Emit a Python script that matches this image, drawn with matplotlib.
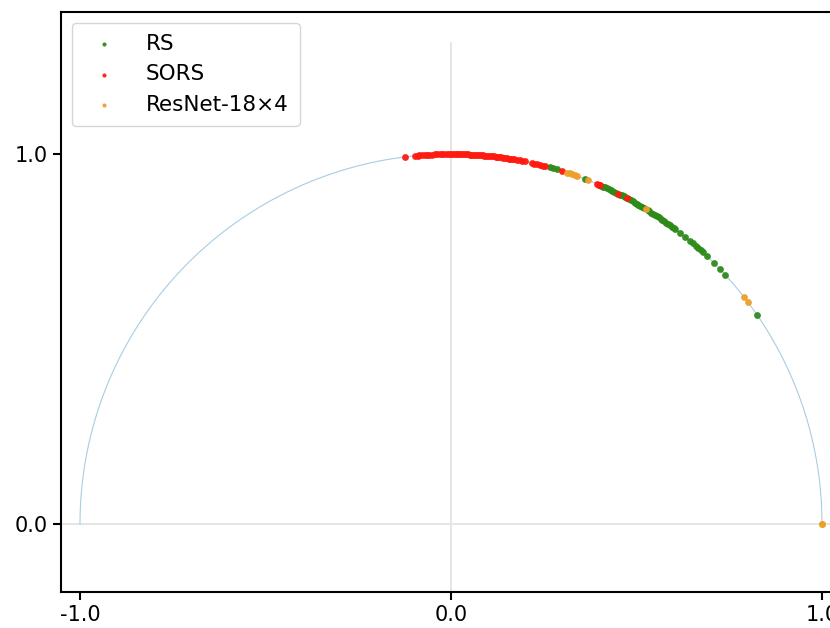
import numpy as np
import matplotlib.pyplot as plt

# cosine values (x on the unit circle)
rs_x = [0.267, 0.275, 0.286, 0.361, 0.40, 0.405, 0.41, 0.415, 0.42, 0.425, 0.43,
        0.435, 0.44, 0.445, 0.45, 0.456, 0.46, 0.465, 0.47, 0.475, 0.48, 0.485,
        0.49, 0.495, 0.50, 0.505, 0.51, 0.515, 0.52, 0.53, 0.535, 0.54, 0.545,
        0.55, 0.555, 0.56, 0.565, 0.57, 0.575, 0.58, 0.585, 0.59, 0.595, 0.60,
        0.604, 0.617, 0.631, 0.644, 0.652, 0.66, 0.667, 0.673, 0.679, 0.69,
        0.709, 0.725, 0.739, 0.825]
sors_x = [-0.124, -0.097, -0.09, -0.085, -0.078, -0.07, -0.064, -0.058, -0.05,
          -0.044, -0.038, -0.03, -0.024, -0.018, -0.012, -0.006, 0.0, 0.005,
          0.01, 0.015, 0.02, 0.025, 0.03, 0.035, 0.04, 0.045, 0.05, 0.055, 0.06,
          0.065, 0.07, 0.075, 0.08, 0.085, 0.09, 0.095, 0.10, 0.105, 0.11, 0.115,
          0.12, 0.125, 0.13, 0.135, 0.14, 0.145, 0.15, 0.155, 0.16, 0.165, 0.17,
          0.178, 0.185, 0.192, 0.199, 0.218, 0.225, 0.232, 0.24, 0.247, 0.253,
          0.299, 0.394, 0.398, 0.402, 0.45, 0.474]
resnet_x = [0.313, 0.32, 0.327, 0.334, 0.340, 0.369, 0.526, 0.790, 0.801, 1.0, 1.0]

green = '#2e8b1a'
red = '#ff1a10'
orange = '#eda02a'

fig = plt.figure(figsize=(8.3, 6.28), dpi=100)
ax = fig.add_axes([61/830, 36/628, 774/830, 580/628])

t = np.linspace(0, np.pi, 400)
ax.plot(np.cos(t), np.sin(t), color='#a8cde3', lw=0.8, zorder=1)
ax.plot([-1.1, 1.1], [0, 0], color='#e3e3e3', lw=1.3, zorder=0)
ax.plot([0, 0], [-0.2, 1.3], color='#e3e3e3', lw=1.3, zorder=0)

for xs, c, lab in [(rs_x, green, 'RS'), (sors_x, red, 'SORS'),
                   (resnet_x, orange, 'ResNet-18\u00d74')]:
    xs = np.array(xs)
    ys = np.sqrt(np.clip(1 - xs**2, 0, None))
    ax.scatter(xs, ys, s=24, color=c, label=lab, zorder=3, linewidths=0, alpha=0.95)

ax.set_xlim(-1.0512, 1.035)
ax.set_ylim(-0.184, 1.384)
ax.set_xticks([-1, 0, 1])
ax.set_xticklabels(['-1.0', '0.0', '1.0'])
ax.set_yticks([0, 1])
ax.set_yticklabels(['0.0', '1.0'])
ax.tick_params(labelsize=15, length=6, width=1.5)
for s in ax.spines.values():
    s.set_linewidth(1.5)

ax.legend(loc='upper left', fontsize=15.5, markerscale=0.6, borderpad=0.5,
          handletextpad=0.95, labelspacing=0.5, borderaxespad=0.5)

fig.savefig('out.png', dpi=100)
